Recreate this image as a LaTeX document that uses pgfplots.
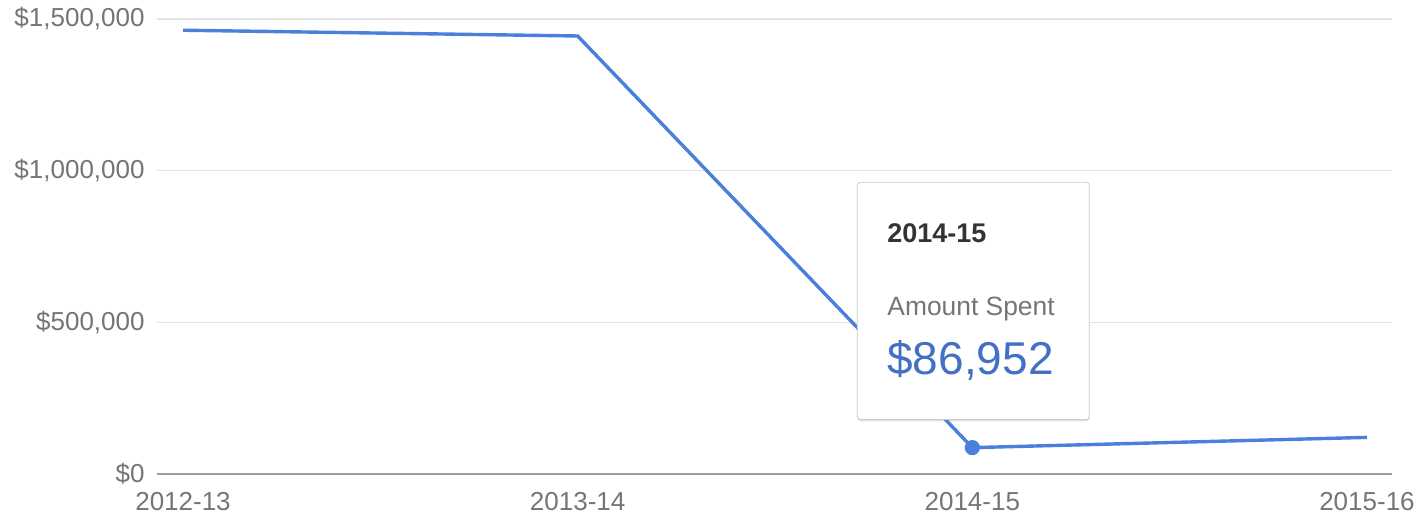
\documentclass[border=0pt]{standalone}
\usepackage{fontspec}
\setmainfont{Liberation Sans}
\usepackage{pgfplots}
\pgfplotsset{compat=1.18}
\usetikzlibrary{shadows}
\definecolor{lineblue}{RGB}{74,128,220}
\definecolor{valblue}{RGB}{66,112,196}
\definecolor{labgray}{RGB}{117,117,117}
\definecolor{gridgray}{RGB}{228,228,228}
\definecolor{basegray}{RGB}{158,158,158}
\definecolor{titledark}{RGB}{51,51,51}
\begin{document}
\begin{tikzpicture}
\begin{axis}[
  scale only axis,
  width=617.5pt, height=227.5pt,
  xmin=-0.0659, xmax=3.0634,
  ymin=0, ymax=1500000,
  scaled y ticks=false,
  xtick={0,1,2,3},
  xticklabels={2012-13,2013-14,2014-15,2015-16},
  ytick={0,500000,1000000,1500000},
  yticklabels={{\$0},{\$500,000},{\$1,000,000},{\$1,500,000}},
  axis line style={draw=none},
  major tick length=0pt,
  ymajorgrids,
  grid style={gridgray, line width=0.8pt},
  tick label style={font=\fontsize{13}{15}\selectfont, text=labgray},
  yticklabel style={anchor=east, inner sep=0pt, xshift=-6pt},
  xticklabel style={anchor=north, inner sep=0pt, yshift=-9pt},
  clip=false,
]
\draw[basegray, line width=0.8pt] (rel axis cs:0,0) -- (rel axis cs:1,0);
\addplot[lineblue, line width=1.7pt, mark=none] coordinates {
  (0,1463000) (1,1444000) (2,86952) (3,120700)
};
\addplot[only marks, mark=*, mark size=3.6pt, lineblue, mark options={fill=lineblue, draw=lineblue}] coordinates {(2,86952)};
\draw[draw=black!20, fill=white, rounded corners=1.5pt,
  drop shadow={opacity=0.25, shadow xshift=0pt, shadow yshift=-1pt}]
  (axis cs:1.7085,179934) rectangle (axis cs:2.2964,961513);
\node[anchor=base west, inner sep=0pt, text=titledark, font=\fontsize{13.5}{16}\selectfont\bfseries] at (axis cs:1.7838,763158) {2014-15};
\node[anchor=base west, inner sep=0pt, text=labgray, font=\fontsize{13.2}{16}\selectfont] at (axis cs:1.7838,523026) {Amount Spent};
\node[anchor=base west, inner sep=0pt, text=valblue, font=\fontsize{23}{27}\selectfont] at (axis cs:1.7838,328947) {\$86,952};
\coordinate (bbl) at (rel axis cs:-0.12713,-0.09011);
\coordinate (btr) at (rel axis cs:1.02510,1.04176);
\end{axis}
\pgfresetboundingbox
\useasboundingbox (bbl) rectangle (btr);
\end{tikzpicture}
\end{document}
